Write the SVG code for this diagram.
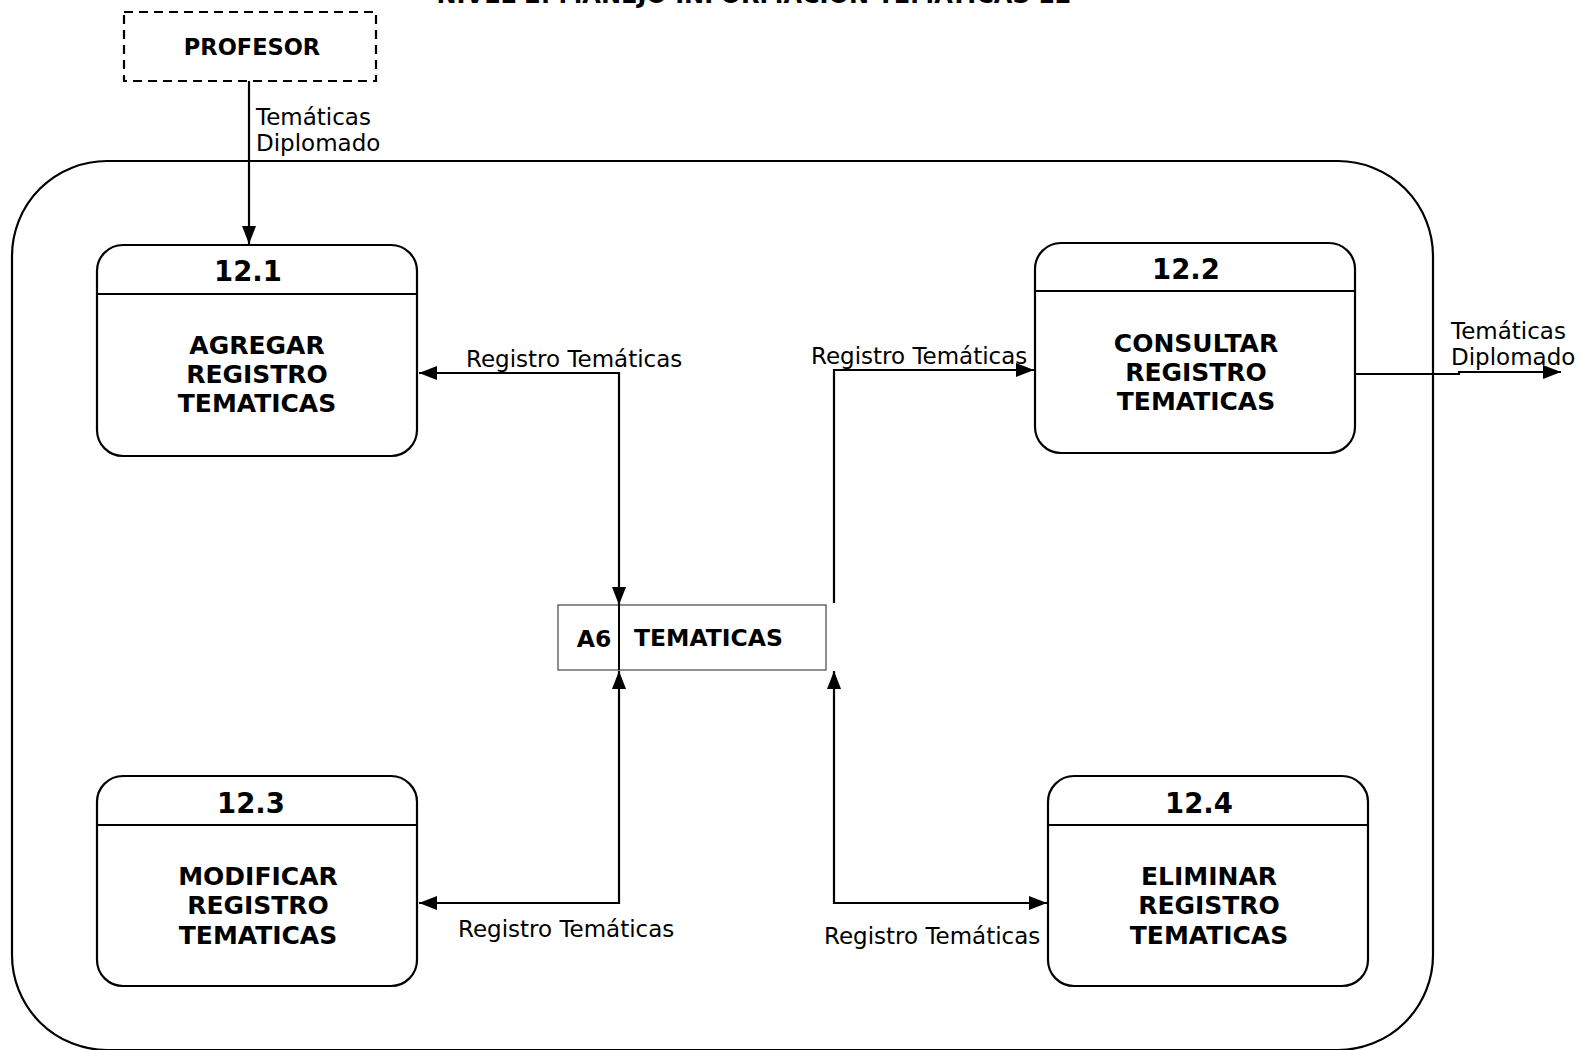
<svg xmlns="http://www.w3.org/2000/svg" width="1581" height="1050" viewBox="0 0 1581 1050">
<style>
.box{fill:#fff;stroke:#000;stroke-width:2.2}
.hdr{stroke:#000;stroke-width:2.2}
.num{font-family:"DejaVu Sans",Verdana,sans-serif;font-weight:bold;font-size:27.5px;text-anchor:middle}
.ttl{font-family:"DejaVu Sans",Verdana,sans-serif;font-weight:bold;font-size:25px;text-anchor:middle}
.ext{font-family:"DejaVu Sans",Verdana,sans-serif;font-weight:bold;font-size:22.5px;text-anchor:middle}
.st{font-family:"DejaVu Sans",Verdana,sans-serif;font-weight:bold;font-size:23.5px}
.lbl{font-family:"DejaVu Sans",Verdana,sans-serif;font-size:23px}
.flow{fill:none;stroke:#000;stroke-width:2.2}
</style>
<defs>
<marker id="arr" viewBox="0 0 18 14" refX="18" refY="7" markerWidth="18" markerHeight="14" markerUnits="userSpaceOnUse" orient="auto-start-reverse">
<path d="M0,0 L18,7 L0,14 z" fill="#000"/>
</marker>
</defs>
<rect width="1581" height="1050" fill="#fff"/>
<text x="754" y="3" class="ttl" textLength="635" lengthAdjust="spacingAndGlyphs">NIVEL 2. MANEJO INFORMACION TEMATICAS 12</text>
<g id="boundary">
<rect x="12" y="161" width="1421" height="889" rx="95" ry="95" fill="none" stroke="#000" stroke-width="2.2"/>
</g>
<g id="profesor">
<rect x="124" y="12" width="252" height="69" fill="#fff" stroke="#000" stroke-width="2.2" stroke-dasharray="9,6"/>
<text x="252" y="55" class="ext">PROFESOR</text>
</g>
<g id="p12_1">
<rect x="97" y="245" width="320" height="211" rx="26" class="box"/>
<line x1="97" y1="294" x2="417" y2="294" class="hdr"/>
<text x="248" y="281" class="num">12.1</text>
<text class="ttl"><tspan x="257" y="354">AGREGAR</tspan><tspan x="257" y="383">REGISTRO</tspan><tspan x="257" y="412">TEMATICAS</tspan></text>
</g>
<g id="p12_2">
<rect x="1035" y="243" width="320" height="210" rx="26" class="box"/>
<line x1="1035" y1="291" x2="1355" y2="291" class="hdr"/>
<text x="1186" y="279" class="num">12.2</text>
<text class="ttl"><tspan x="1196" y="352">CONSULTAR</tspan><tspan x="1196" y="381">REGISTRO</tspan><tspan x="1196" y="410">TEMATICAS</tspan></text>
</g>
<g id="p12_3">
<rect x="97" y="776" width="320" height="210" rx="26" class="box"/>
<line x1="97" y1="825" x2="417" y2="825" class="hdr"/>
<text x="251" y="813" class="num">12.3</text>
<text class="ttl"><tspan x="258" y="885">MODIFICAR</tspan><tspan x="258" y="914">REGISTRO</tspan><tspan x="258" y="944">TEMATICAS</tspan></text>
</g>
<g id="p12_4">
<rect x="1048" y="776" width="320" height="210" rx="26" class="box"/>
<line x1="1048" y1="825" x2="1368" y2="825" class="hdr"/>
<text x="1199" y="813" class="num">12.4</text>
<text class="ttl"><tspan x="1209" y="885">ELIMINAR</tspan><tspan x="1209" y="914">REGISTRO</tspan><tspan x="1209" y="944">TEMATICAS</tspan></text>
</g>
<g id="a6">
<rect x="558" y="605" width="268" height="65" fill="#fff" stroke="#444" stroke-width="1.2"/>
<text x="594" y="647" class="st" text-anchor="middle">A6</text>
<text x="634" y="646" class="st">TEMATICAS</text>
</g>
<g id="connectors">
<path class="flow" d="M249,81 V244" marker-end="url(#arr)"/>
<path class="flow" d="M619,605 V373 H419" marker-start="url(#arr)" marker-end="url(#arr)"/>
<path class="flow" d="M834,603 V370 H1034" marker-end="url(#arr)"/>
<path class="flow" d="M419,903 H619 V671" marker-start="url(#arr)" marker-end="url(#arr)"/>
<path class="flow" d="M834,671 V903 H1047" marker-start="url(#arr)" marker-end="url(#arr)"/>
<path class="flow" d="M1355,374 H1459 V372 H1561" marker-end="url(#arr)"/>
<line x1="619" y1="605" x2="619" y2="670" stroke="#000" stroke-width="2"/>
</g>
<g id="labels">
<text class="lbl"><tspan x="256" y="125">Temáticas</tspan><tspan x="256" y="151">Diplomado</tspan></text>
<text class="lbl" x="466" y="367">Registro Temáticas</text>
<text class="lbl" x="811" y="364">Registro Temáticas</text>
<text class="lbl" x="458" y="937">Registro Temáticas</text>
<text class="lbl" x="824" y="944">Registro Temáticas</text>
<text class="lbl"><tspan x="1451" y="339">Temáticas</tspan><tspan x="1451" y="365">Diplomado</tspan></text>
</g>
</svg>
